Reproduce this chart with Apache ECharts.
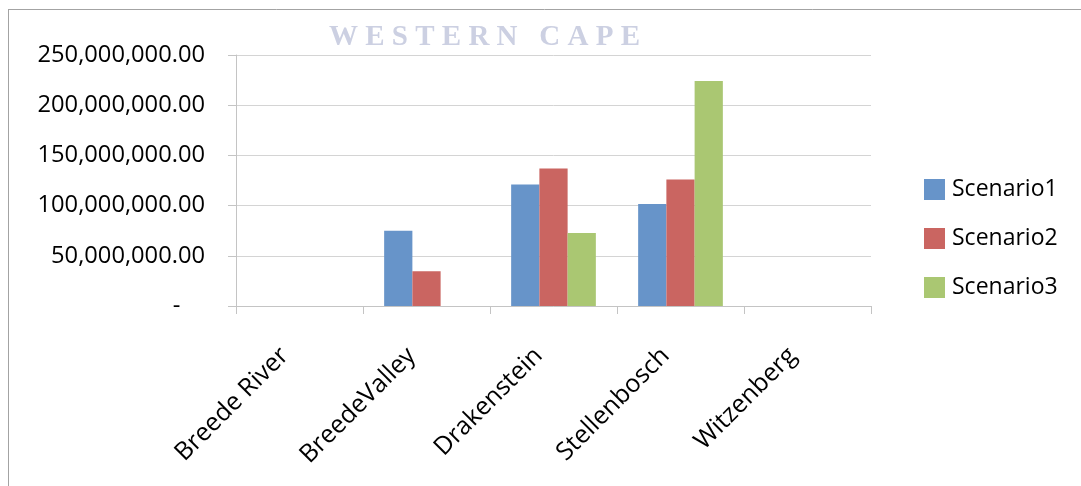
<!DOCTYPE html>
<html>
<head>
<meta charset="utf-8">
<script src="https://cdn.jsdelivr.net/npm/echarts@6/dist/echarts.min.js"></script>
<style>
  html, body { margin: 0; padding: 0; background: #ffffff; }
  #chart { width: 1081px; height: 486px; }
</style>
</head>
<body>
<div id="chart"></div>
<script>
// Municipalities on the category axis
const categories = ['Breede River', 'BreedeValley', 'Drakenstein', 'Stellenbosch', 'Witzenberg'];

// Values per scenario (same order as categories)
const scenario1 = [0, 75000000, 121000000, 101500000, 0];
const scenario2 = [0, 34500000, 137000000, 126000000, 0];
const scenario3 = [0, 0, 72700000, 224000000, 0];

const seriesNames = ['Scenario1', 'Scenario2', 'Scenario3'];

// Value-axis range
const yMin = 0;
const yMax = 250000000;
const yStep = 50000000;

const colors = ['#6794C9', '#CA6561', '#AAC772'];
const font = '"Open Sans", "Noto Sans", sans-serif';
const axisGray = '#c4c4c4';

function fmtValue(v) {
  if (v === 0) return '-    ';
  return v.toLocaleString('en-US', { minimumFractionDigits: 2, maximumFractionDigits: 2 });
}

const chart = echarts.init(document.getElementById('chart'), null, { renderer: 'canvas' });

const seriesData = [scenario1, scenario2, scenario3];

chart.setOption({
  animation: false,
  backgroundColor: '#ffffff',
  color: colors,
  grid: { left: 236, right: 210, top: 55, bottom: 180, containLabel: false },
  legend: {
    orient: 'vertical',
    left: 924,
    top: 178,
    padding: 0,
    itemWidth: 21,
    itemHeight: 21,
    itemGap: 26,
    icon: 'rect',
    data: seriesNames,
    textStyle: { fontFamily: font, fontSize: 23, color: '#000000', lineHeight: 21, padding: [0, 0, 0, 2] }
  },
  xAxis: {
    type: 'category',
    data: categories,
    boundaryGap: true,
    axisLine: { show: true, lineStyle: { color: axisGray, width: 1 } },
    axisTick: { show: true, length: 8, lineStyle: { color: axisGray } },
    axisLabel: {
      rotate: 45,
      margin: 31,
      interval: 0,
      padding: [0, 21, 0, 0],
      fontFamily: font,
      fontSize: 25,
      color: '#000000'
    },
    splitLine: { show: false }
  },
  yAxis: {
    type: 'value',
    min: yMin,
    max: yMax,
    interval: yStep,
    axisLine: { show: true, lineStyle: { color: axisGray, width: 1 } },
    axisTick: { show: true, length: 8, lineStyle: { color: axisGray } },
    axisLabel: {
      margin: 31,
      fontFamily: font,
      fontSize: 23.7,
      color: '#000000',
      formatter: fmtValue
    },
    splitLine: { show: true, lineStyle: { color: '#d4d4d4', width: 1 } }
  },
  series: seriesNames.map((name, i) => ({
    name: name,
    type: 'bar',
    data: seriesData[i],
    barGap: '0%',
    barCategoryGap: '33.3%',
    itemStyle: { color: colors[i] }
  })),
  graphic: [
    // Frame around the chart area
    { type: 'line', silent: true, z: 10,
      shape: { x1: 8, y1: 9.5, x2: 1081, y2: 9.5 },
      style: { stroke: '#a3a3a3', lineWidth: 1 } },
    { type: 'line', silent: true, z: 10,
      shape: { x1: 8.5, y1: 9, x2: 8.5, y2: 486 },
      style: { stroke: '#a3a3a3', lineWidth: 1 } },
    // Watermark
    { type: 'text', silent: true, z: 5, left: 328, top: -22,
      style: {
        text: 'U N I V E R S I T Y   o f   t h e',
        fontFamily: '"Liberation Serif", serif', fontWeight: 'bold', fontSize: 29,
        fill: '#d2d4e4'
      } },
    { type: 'text', silent: true, z: 5, left: 329, top: 23,
      style: {
        text: 'W E S T E R N   C A P E',
        fontFamily: '"Liberation Serif", serif', fontWeight: 'bold', fontSize: 29,
        fill: '#ccd0e2'
      } }
  ]
});
</script>
</body>
</html>
